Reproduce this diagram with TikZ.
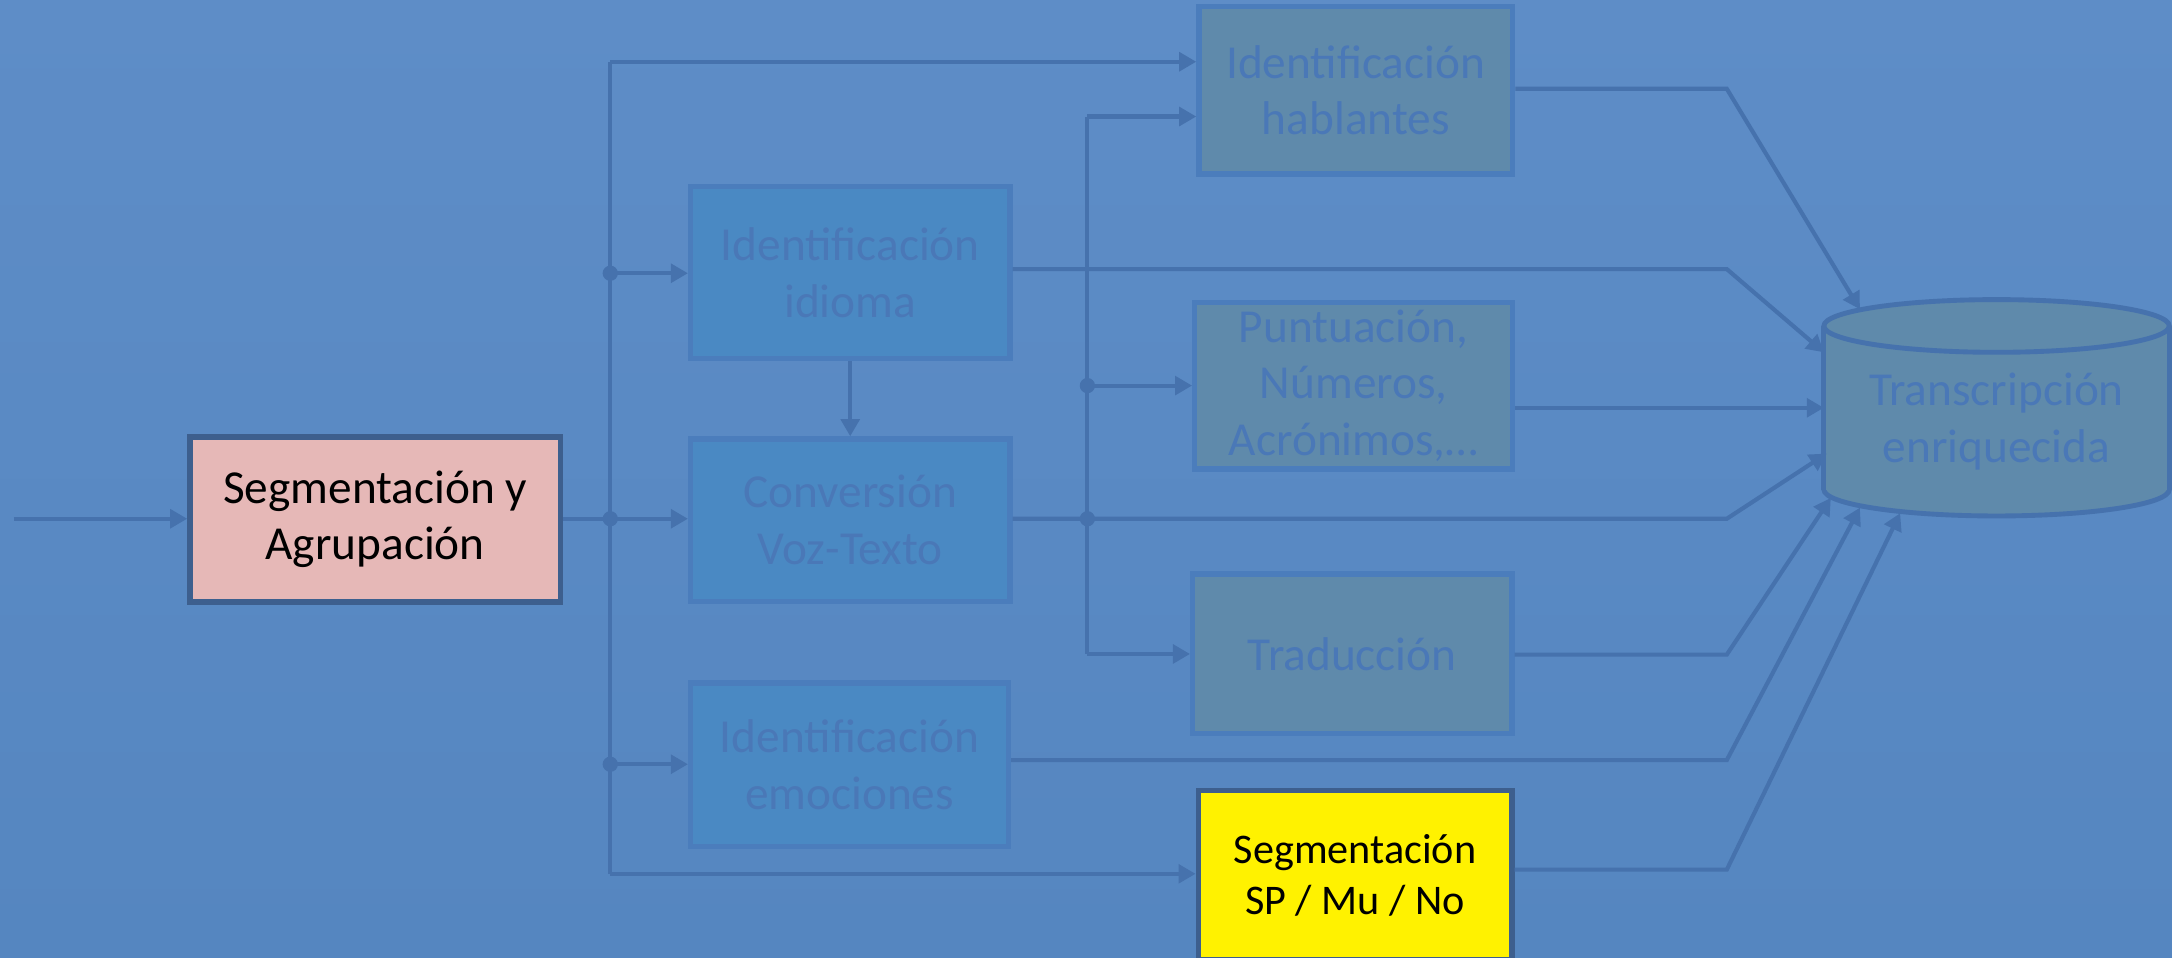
\documentclass[tikz,border=0pt]{standalone}
\usepackage{fontspec}
\setmainfont{Carlito}
\usetikzlibrary{arrows.meta}
\definecolor{bgtop}{HTML}{5E8DC7}
\definecolor{bgbot}{HTML}{5586C0}
\definecolor{linec}{HTML}{4672AD}
\definecolor{bluefill}{HTML}{4A89C3}
\definecolor{grayfill}{HTML}{5F8AAB}
\definecolor{faintbd}{HTML}{4B7DBC}
\definecolor{fainttx}{HTML}{4A78B7}
\definecolor{darkbd}{HTML}{3D5F8E}
\definecolor{pinkfill}{HTML}{E6B8B7}
\begin{document}
\begin{tikzpicture}[x=0.01cm,y=-0.01cm,
  box/.style={rectangle, line width=1.1pt, align=center, inner sep=0pt,
    font=\fontsize{9.7}{11.6}\selectfont},
  bluebox/.style={box, fill=bluefill, draw=faintbd, text=fainttx},
  graybox/.style={box, fill=grayfill, draw=faintbd, text=fainttx},
  conn/.style={draw=linec, line width=0.85pt},
  arr/.style={conn, -{Triangle[length=3.5pt,width=3.8pt]}},
  jdot/.style={fill=linec, circle, inner sep=0pt, minimum size=0.11cm}]
\useasboundingbox (0,0) rectangle (1566,690);
\clip (0,0) rectangle (1566,690);
\shade[top color=bgtop, bottom color=bgbot] (0,0) rectangle (1566,690);

% nodes
\node[box, fill=pinkfill, draw=darkbd, text=black, minimum width=2.67cm, minimum height=1.19cm] (A) at (270.5,374.5) {Segmentación y\\Agrupación};
\node[bluebox, minimum width=2.30cm, minimum height=1.24cm] (idi) at (613,196.5) {Identificación\\idioma};
\node[bluebox, minimum width=2.30cm, minimum height=1.17cm] (conv) at (613,375) {Conversión\\Voz-Texto};
\node[bluebox, minimum width=2.29cm, minimum height=1.18cm] (emo) at (612.5,551.5) {Identificación\\emociones};
\node[graybox, minimum width=2.26cm, minimum height=1.21cm] (hab) at (977.5,65) {Identificación\\hablantes};
\node[graybox, minimum width=2.29cm, minimum height=1.20cm] (punt) at (976,278) {Puntuación,\\Números,\\Acrónimos,…};
\node[graybox, minimum width=2.30cm, minimum height=1.15cm] (trad) at (975,471.5) {Traducción};
\node[box, fill=yellow, draw=darkbd, text=black, minimum width=2.26cm, minimum height=1.22cm,
  font=\fontsize{8.65}{10.5}\selectfont] (seg) at (977,631) {Segmentación\\SP / Mu / No};

% cylinder
\filldraw[fill=grayfill, draw=linec, line width=1pt] (1439.5,353) ellipse [x radius=124.5, y radius=19];
\fill[grayfill] (1315,235) rectangle (1564,353);
\draw[linec, line width=1pt] (1315,235) -- (1315,353) (1564,235) -- (1564,353);
\filldraw[fill=grayfill, draw=linec, line width=1pt] (1439.5,235) ellipse [x radius=124.5, y radius=19];
\node[text=fainttx, align=center, inner sep=0pt, font=\fontsize{9.7}{11.6}\selectfont] (cyl) at (1439.5,304) {Transcripción\\enriquecida};

% coordinates
\coordinate (in) at (10,374);
\coordinate (j1top) at (440,44.5);
\coordinate (j1a) at (440,197);
\coordinate (j1b) at (440,374);
\coordinate (j1c) at (440,551);
\coordinate (j1bot) at (440,630);
\coordinate (j2top) at (784,84);
\coordinate (j2a) at (784,278);
\coordinate (j2b) at (784,374);
\coordinate (j2bot) at (784,471.5);
\coordinate (k1) at (1245,64);
\coordinate (k2) at (1245,194);
\coordinate (k4) at (1245,374);
\coordinate (k5) at (1245,472);
\coordinate (k6) at (1245,548);
\coordinate (k7) at (1245,627);
\coordinate (t1) at (1341,223);
\coordinate (t2) at (1315,254);
\coordinate (t3) at (1315,294);
\coordinate (t4) at (1317,327);
\coordinate (t5) at (1320,359);
\coordinate (t6) at (1341,366);
\coordinate (t7) at (1370,370);

% connectors
\draw[arr] (in) -- (in -| A.west);
\draw[arr] (A.east |- j1b) -- (j1b -| conv.west);
\draw[conn] (j1top) -- (j1bot);
\draw[arr] (j1top) -- (j1top -| hab.west);
\draw[arr] (j1a) -- (j1a -| idi.west);
\draw[arr] (j1c) -- (j1c -| emo.west);
\draw[arr] (j1bot) -- (j1bot -| seg.west);
\draw[arr] (idi.south) -- (conv.north);
\draw[arr] (idi.east |- k2) -- (k2) -- (t2);
\draw[arr] (conv.east |- k4) -- (k4) -- (t4);
\draw[conn] (j2top) -- (j2bot);
\draw[arr] (j2top) -- (j2top -| hab.west);
\draw[arr] (j2a) -- (j2a -| punt.west);
\draw[arr] (j2bot) -- (j2bot -| trad.west);
\draw[arr] (hab.east |- k1) -- (k1) -- (t1);
\draw[arr] (punt.east |- t3) -- (t3);
\draw[arr] (trad.east |- k5) -- (k5) -- (t5);
\draw[arr] (emo.east |- k6) -- (k6) -- (t6);
\draw[arr] (seg.east |- k7) -- (k7) -- (t7);

% junction dots
\node[jdot] (d1) at (j1a) {};
\node[jdot] (d2) at (j1b) {};
\node[jdot] (d3) at (j1c) {};
\node[jdot] (d4) at (j2a) {};
\node[jdot] (d5) at (j2b) {};
\end{tikzpicture}
\end{document}
